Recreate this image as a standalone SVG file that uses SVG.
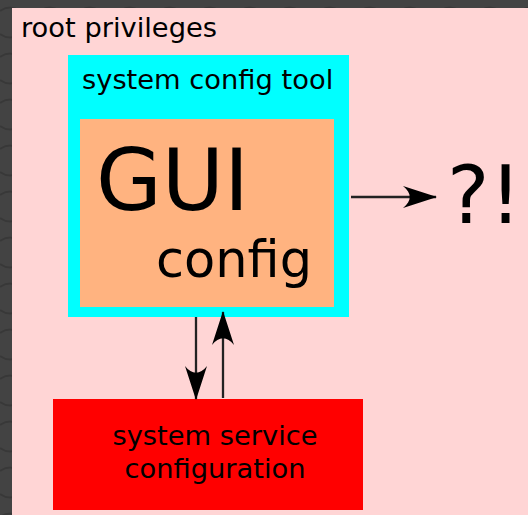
<svg xmlns="http://www.w3.org/2000/svg" width="528" height="515" viewBox="0 0 528 515">
  <defs>
    <pattern id="bgpat" width="40" height="46" patternUnits="userSpaceOnUse">
      <rect width="40" height="46" fill="#434343"/>
      <path d="M0,11 Q10,4 20,11 Q30,18 40,11 M20,11 L20,34 M0,34 Q10,41 20,34 Q30,27 40,34" fill="none" stroke="#383838" stroke-width="2"/>
    </pattern>
    <marker id="arr" markerUnits="userSpaceOnUse" viewBox="-36 -13 38 26" markerWidth="38" markerHeight="26" refX="0" refY="0" orient="auto">
      <path d="M1,0 L-33,-11 C-24,-4 -24,4 -33,11 Z" fill="#000"/>
    </marker>
    <style>
      .lbl { font-family: "DejaVu Sans", Verdana, sans-serif; fill: #000; }
      .small { font-size: 27.3px; }
      .conn { stroke: #222; stroke-width: 2.3; fill: none; marker-end: url(#arr); }
    </style>
  </defs>

  <rect x="0" y="0" width="528" height="515" fill="url(#bgpat)"/>

  <g id="root-privileges">
    <rect x="12" y="8" width="520" height="512" fill="#ffd5d5"/>
    <text class="lbl small" x="21" y="37" fill="#1a1a1a">root privileges</text>
  </g>

  <g id="system-config-tool">
    <rect x="68" y="55" width="281" height="262" fill="#00ffff"/>
    <text class="lbl small" x="82" y="89">system config tool</text>
  </g>

  <g id="gui-config">
    <rect x="80" y="119" width="254" height="188" fill="#ffb380"/>
    <text class="lbl" x="96" y="210" font-size="85">GUI</text>
    <text class="lbl" x="156" y="277" font-size="51">config</text>
  </g>

  <g id="system-service-configuration">
    <rect x="53" y="399" width="310" height="111" fill="#ff0000"/>
    <text class="lbl small" x="215" y="445" text-anchor="middle">system service</text>
    <text class="lbl small" x="215" y="478" text-anchor="middle">configuration</text>
  </g>

  <g id="unknown">
    <text class="lbl" x="447" y="223" font-size="80">?!</text>
  </g>

  <g id="connectors">
    <line class="conn" x1="196" y1="317" x2="196" y2="399"/>
    <line class="conn" x1="223" y1="398" x2="223" y2="312"/>
    <line class="conn" x1="351" y1="197" x2="436" y2="197"/>
  </g>
</svg>
